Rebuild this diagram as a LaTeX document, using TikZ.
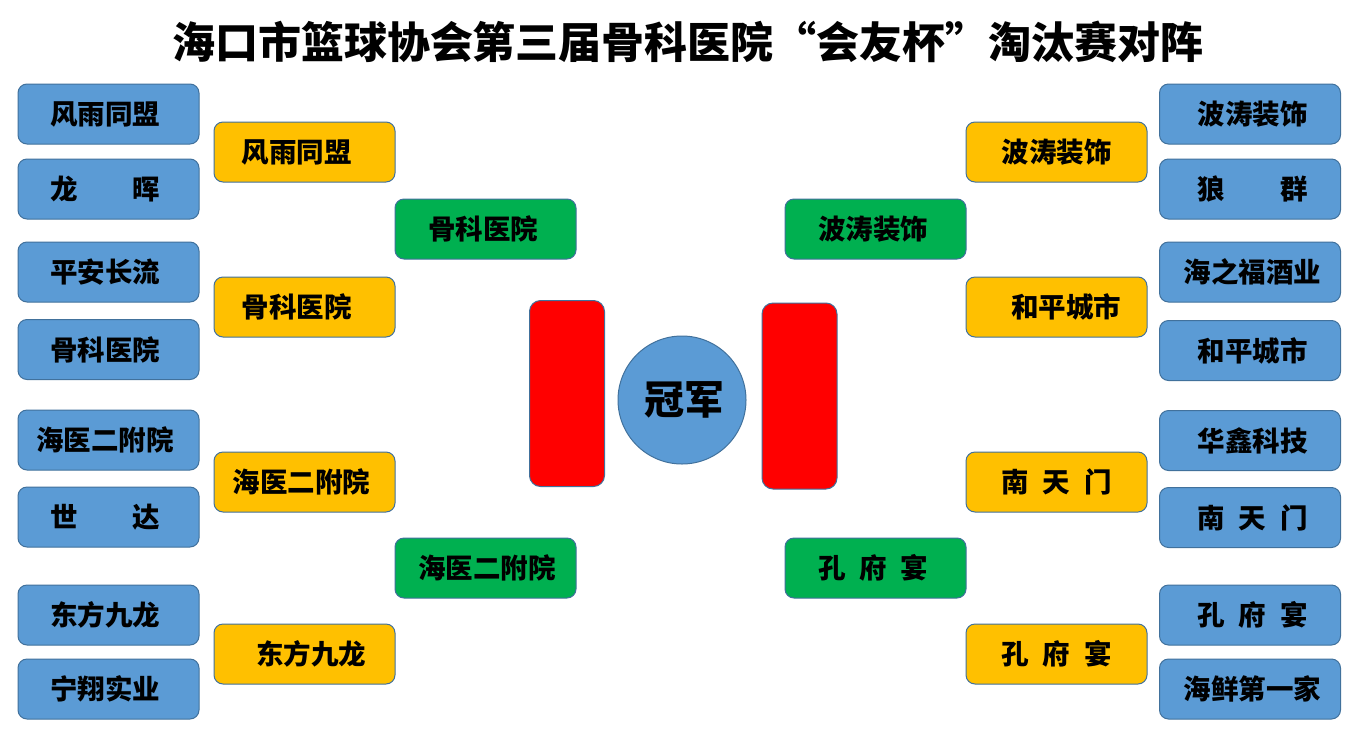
\documentclass[tikz,border=0pt]{standalone}
\usepackage{fontspec}
\usepackage{graphicx}
\newfontfamily\cjk{Noto Sans CJK SC}
\definecolor{bblue}{HTML}{5B9BD5}
\definecolor{byel}{HTML}{FFC000}
\definecolor{bgreen}{HTML}{00B050}
\definecolor{bred}{HTML}{FF0000}
\definecolor{edgeblue}{HTML}{41719C}
\begin{document}
\begin{tikzpicture}[x=1pt,y=-1pt,
  box/.style={draw=edgeblue, line width=1pt, rounded corners=9pt, minimum width=181pt, minimum height=60pt, inner sep=0pt, text=black, font=\cjk\bfseries\fontsize{27.5}{30}\selectfont},
  team/.style={box, fill=bblue},
  semi/.style={box, fill=byel},
  fin/.style={box, fill=bgreen},
  post/.style={draw=edgeblue, line width=1pt, rounded corners=11pt, fill=bred, minimum width=75pt, minimum height=186pt, inner sep=0pt},
  cup/.style={circle, draw=edgeblue, line width=1pt, fill=bblue, minimum size=128pt, inner sep=0pt, text=black, font=\cjk\bfseries\fontsize{40}{44}\selectfont},
  sh/.style={execute at begin node={\hspace*{#1}}}]
\useasboundingbox (0,0) rectangle (1353,729);
\fill[white] (0,0) rectangle (1353,729);

\node (title) at (688,42) {\resizebox{1032pt}{!}{\cjk\bfseries 海口市篮球协会第三届骨科医院“会友杯”淘汰赛对阵}};

% left round 1
\node[team, sh=-7pt] (l1) at (108.5,114) {风雨同盟};
\node[team, sh=-7pt] (l2) at (108.5,189) {龙\hspace{2em}晖};
\node[team, sh=-7pt] (l3) at (108.5,272) {平安长流};
\node[team, sh=-7pt] (l4) at (108.5,349.5) {骨科医院};
\node[team, sh=-7pt] (l5) at (108.5,440) {海医二附院};
\node[team, sh=-7pt] (l6) at (108.5,517) {世\hspace{2em}达};
\node[team, sh=-7pt] (l7) at (108.5,615) {东方九龙};
\node[team, sh=-7pt] (l8) at (108.5,689) {宁翔实业};

% right round 1
\node[team, sh=5pt] (r1) at (1250,114) {波涛装饰};
\node[team, sh=5pt] (r2) at (1250,189) {狼\hspace{2em}群};
\node[team, sh=5pt] (r3) at (1250,272) {海之福酒业};
\node[team, sh=5pt] (r4) at (1250,350.5) {和平城市};
\node[team, sh=5pt] (r5) at (1250,440.5) {华鑫科技};
\node[team, sh=5pt] (r6) at (1250,517.5) {南\hspace{0.5em}天\hspace{0.5em}门};
\node[team, sh=5pt] (r7) at (1250,615) {孔\hspace{0.5em}府\hspace{0.5em}宴};
\node[team, sh=5pt] (r8) at (1250,689) {海鲜第一家};

% quarter finals
\node[semi, sh=-16pt] (ls1) at (304.5,152) {风雨同盟};
\node[semi, sh=-16pt] (ls2) at (304.5,307) {骨科医院};
\node[semi, sh=-6pt] (ls3) at (304.5,482) {海医二附院};
\node[semi, sh=13pt] (ls4) at (304.5,654) {东方九龙};
\node[semi] (rs1) at (1056.5,152) {波涛装饰};
\node[semi, sh=19pt] (rs2) at (1056.5,307) {和平城市};
\node[semi] (rs3) at (1056.5,482) {南\hspace{0.5em}天\hspace{0.5em}门};
\node[semi] (rs4) at (1056.5,654) {孔\hspace{0.5em}府\hspace{0.5em}宴};

% semi finals
\node[fin, sh=-5pt] (lf1) at (485.5,229) {骨科医院};
\node[fin, sh=3pt] (lf2) at (485.5,568) {海医二附院};
\node[fin, sh=-5pt] (rf1) at (875.5,229) {波涛装饰};
\node[fin, sh=-5pt] (rf2) at (875.5,568) {孔\hspace{0.5em}府\hspace{0.5em}宴};

% final
\node[post] (lp) at (567,393.5) {};
\node[post] (rp) at (799.5,396) {};
\node[cup, sh=4pt] (champ) at (682,400) {冠军};
\end{tikzpicture}
\end{document}
